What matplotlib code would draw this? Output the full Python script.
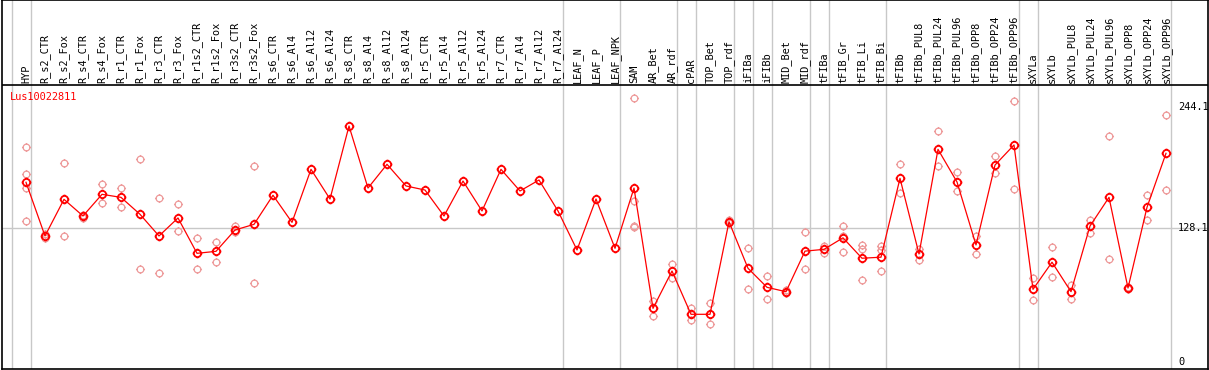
import numpy as np
import matplotlib
matplotlib.use("Agg")
import matplotlib.pyplot as plt
from matplotlib.path import Path

# sample names along the top
samples = ["HYP", "R_s2_CTR", "R_s2_Fox", "R_s4_CTR", "R_s4_Fox", "R_r1_CTR",
           "R_r1_Fox", "R_r3_CTR", "R_r3_Fox", "R_r1s2_CTR", "R_r1s2_Fox",
           "R_r3s2_CTR", "R_r3s2_Fox", "R_s6_CTR", "R_s6_Al4", "R_s6_Al12",
           "R_s6_Al24", "R_s8_CTR", "R_s8_Al4", "R_s8_Al12", "R_s8_Al24",
           "R_r5_CTR", "R_r5_Al4", "R_r5_Al12", "R_r5_Al24", "R_r7_CTR",
           "R_r7_Al4", "R_r7_Al12", "R_r7_Al24", "LEAF_N", "LEAF_P", "LEAF_NPK",
           "SAM", "AR_Bet", "AR_rdf", "cPAR", "TOP_Bet", "TOP_rdf", "iFIBa",
           "iFIBb", "MID_Bet", "MID_rdf", "tFIBa", "tFIB_Gr", "tFIB_Li",
           "tFIB_Bi", "tFIBb", "tFIBb_PUL8", "tFIBb_PUL24", "tFIBb_PUL96",
           "tFIBb_OPP8", "tFIBb_OPP24", "tFIBb_OPP96", "sXYLa", "sXYLb",
           "sXYLb_PUL8", "sXYLb_PUL24", "sXYLb_PUL96", "sXYLb_OPP8",
           "sXYLb_OPP24", "sXYLb_OPP96"]

# mean expression per sample
means = [171.8, 120.5, 155.5, 139.6, 160.3, 157.4, 141.2, 120.5, 137.7, 103.9,
         105.8, 126.2, 131.6, 159.4, 133.5, 184.2, 155.8, 225.6, 166.3, 189.0,
         168.3, 164.4, 139.6, 173.0, 144.4, 184.2, 163.5, 174.0, 144.4, 107.1,
         155.8, 108.7, 166.3, 51.3, 87.0, 45.6, 45.6, 134.1, 89.6, 71.4,
         67.2, 106.0, 107.7, 118.7, 99.2, 100.2, 175.6, 103.3, 203.3, 172.1,
         111.9, 188.3, 207.5, 69.5, 95.4, 67.2, 130.0, 157.4, 70.7, 147.9,
         199.5]

# replicate values per sample
replicates = [
    [205.2, 179.4, 166.6, 134.8], [122.0, 118.2], [190.0, 120.5], [141.0, 138.0],
    [169.9, 151.7], [166.0, 147.9], [193.8, 88.6], [156.5, 84.8], [150.8, 124.9],
    [118.2, 88.6], [115.0, 95.9], [130.3, 124.0], [187.1, 75.2],
    [], [], [], [], [], [], [], [], [], [], [], [], [], [], [], [], [], [], [],
    [252.1, 153.9, 130.3, 128.9], [58.3, 44.3], [93.7, 80.3], [51.3, 40.2],
    [56.7, 36.0], [135.5, 132.5], [108.7, 69.5], [82.2, 59.9], [69.0, 65.5],
    [124.0, 88.6], [111.2, 103.9], [130.0, 120.5, 105.5], [111.9, 108.3, 78.1],
    [110.5, 107.1, 86.7], [189.3, 161.9], [107.7, 97.5], [220.6, 187.1],
    [181.6, 163.2], [120.5, 103.3], [196.9, 180.4], [249.2, 165.4],
    [80.3, 59.3], [109.7, 81.0], [73.3, 60.5], [135.8, 123.0], [215.8, 98.2],
    [71.5, 70.0], [160.0, 135.5], [235.9, 164.4],
]

# groups end after these sample indices
group_ends = [-1, 0, 28, 31, 34, 35, 37, 38, 39, 41, 42, 45, 52, 53, 60]
gene = "Lus10022811"
ytick_vals = [244.1, 128.1, 0]
ytick_text = ["244.1", "128.1", "0"]

W, H = 1209, 370
fig = plt.figure(figsize=(W / 100, H / 100), dpi=100)
ax = fig.add_axes([2 / W, 1 / H, 1206 / W, 369 / H])

# pixel -> data mapping (sample i sits at 26 + 19*i px, value 0 at 362 px)
px_per_x = 19.0
px_per_y = 1.046
ax.set_xlim((2 - 26) / px_per_x, (1208 - 26) / px_per_x)
ax.set_ylim((362 - 369) / px_per_y, 362 / px_per_y)
ax.set_xticks([])
ax.set_yticks([])
for s in ax.spines.values():
    s.set_linewidth(1.2)
    s.set_color("black")

header_y = (362 - 85) / px_per_y
ax.axhline(header_y, color="black", lw=1.2, zorder=3)
ax.axhline(128.1, color="#c8c8c8", lw=1.0, zorder=1)
for g in group_ends:
    ax.axvline(g + 0.25, color="#c8c8c8", lw=1.0, zorder=1)

# circle marker with small ticks
circ = Path.unit_circle()
t = 1.35
ticks = Path([(0, 1), (0, t), (0, -1), (0, -t), (1, 0), (t, 0), (-1, 0), (-t, 0)],
             [Path.MOVETO, Path.LINETO] * 4)
mark = Path.make_compound_path(circ, ticks)

x = np.arange(len(samples))
rx = [i for i, r in enumerate(replicates) for _ in r]
ry = [v for r in replicates for v in r]
ax.plot(rx, ry, linestyle="none", marker=mark, ms=6.5, mfc="none",
        mec="#ee9a9a", mew=0.9, zorder=2)
ax.plot(x, means, color="red", lw=0.9, zorder=4)
ax.plot(x, means, linestyle="none", marker=mark, ms=7, mfc="none",
        mec="red", mew=1.3, zorder=5)

mono = "DejaVu Sans Mono"
label_y = (362 - 83) / px_per_y
for i, name in enumerate(samples):
    ax.text(i, label_y, name, rotation=90, ha="center", va="bottom",
            fontsize=7.4, family=mono, color="black")

ax.text((10 - 26) / px_per_x, (362 - 97) / px_per_y, gene, color="red",
        fontsize=7.4, family=mono, ha="left", va="center")

for v, s in zip(ytick_vals, ytick_text):
    ax.text((1178 - 26) / px_per_x, v, s, fontsize=7.4, family=mono,
            ha="left", va="center", color="black")

fig.savefig("out.png", dpi=100)
